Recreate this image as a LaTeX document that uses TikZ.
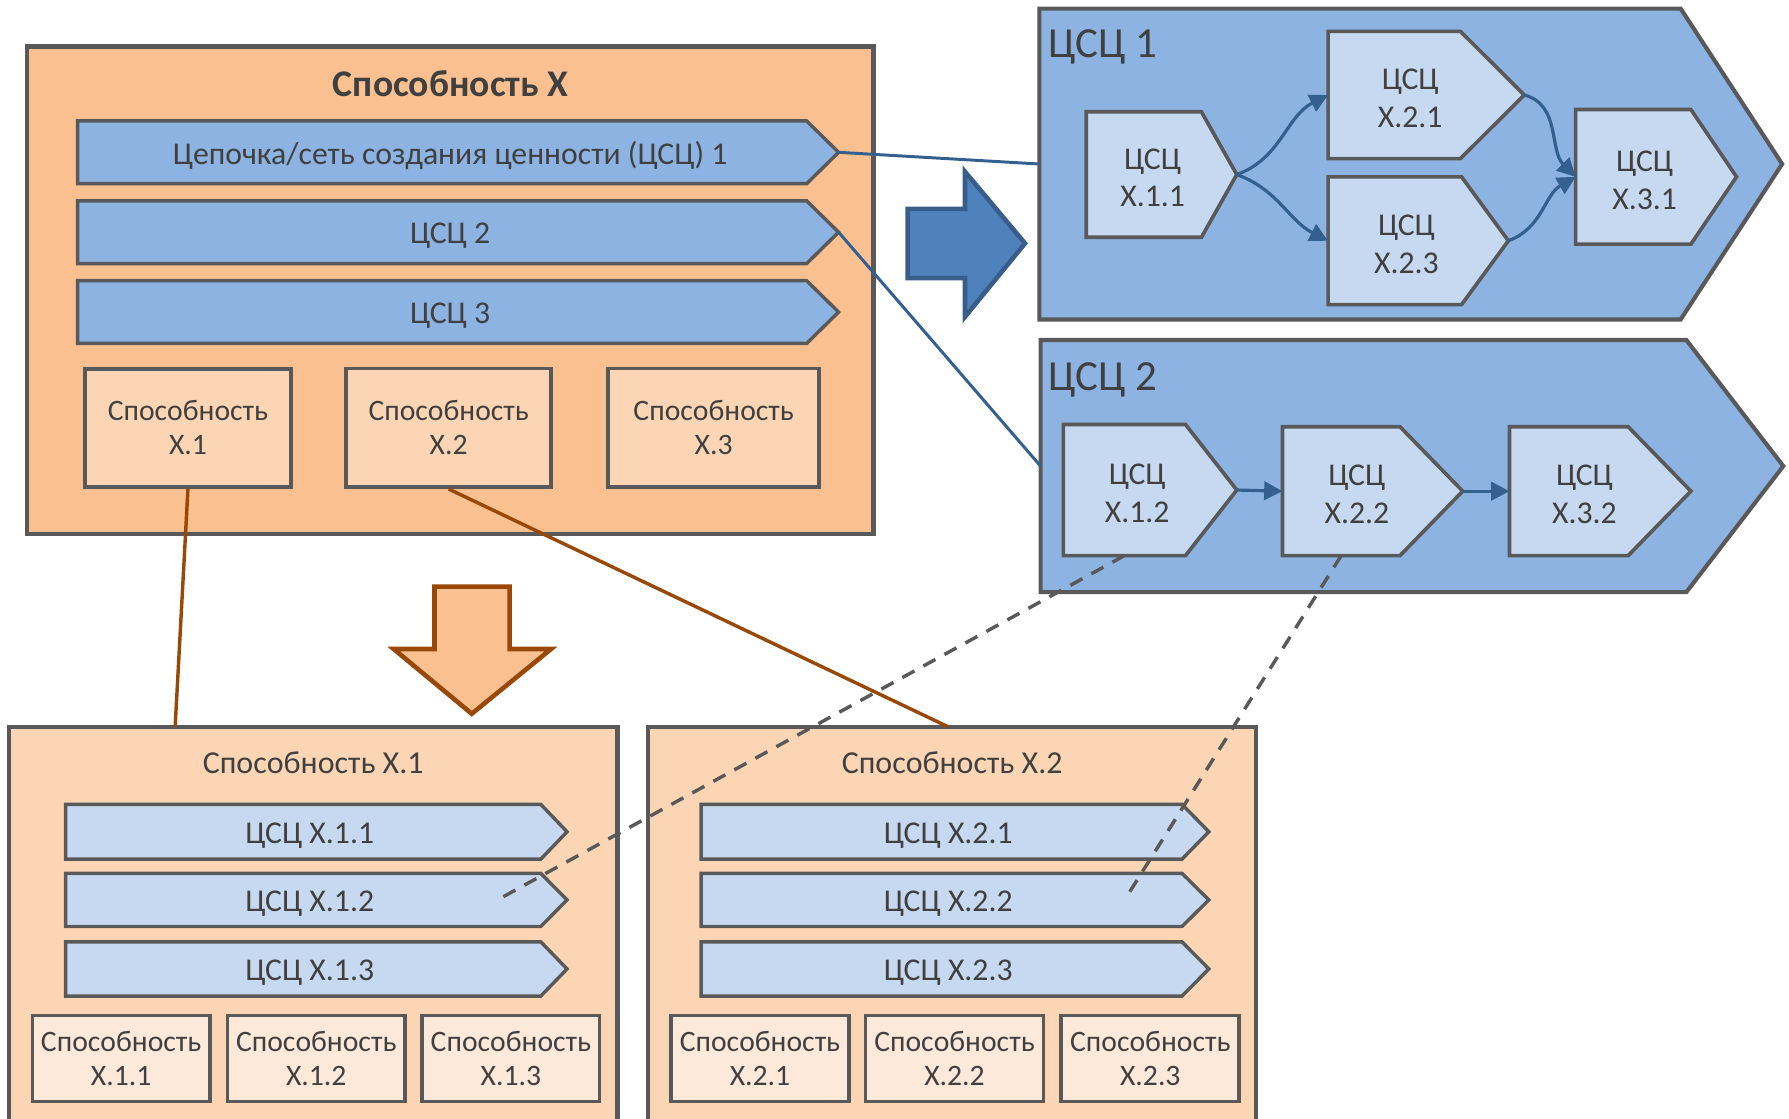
\documentclass[tikz,border=0pt]{standalone}
\usepackage{fontspec}
\setmainfont{Carlito}
\usetikzlibrary{arrows.meta}

\definecolor{framegray}{HTML}{595959}
\definecolor{txtgray}{HTML}{404040}
\definecolor{peach}{HTML}{FAC090}
\definecolor{peachlt}{HTML}{FCD5B5}
\definecolor{peachxl}{HTML}{FDE9D9}
\definecolor{chainblue}{HTML}{8DB3E2}
\definecolor{chainlt}{HTML}{C6D9F1}
\definecolor{linkblue}{HTML}{33608F}
\definecolor{arrowblue}{HTML}{4F81BD}
\definecolor{arrowedge}{HTML}{385D8A}
\definecolor{rust}{HTML}{984807}

% chevron: style, name, x left, y top, x body end, x tip, y bottom, text
\newcommand{\chev}[8]{%
  \draw[#1] (#3,#4) -- (#5,#4) -- (#6,{(#4+#7)/2}) -- (#5,#7) -- (#3,#7) -- cycle;
  \node[txt] (#2) at ({(#3+#5)/2+(#6-#5)/4},{(#4+#7)/2}) {#8};
  \coordinate (#2-tip) at (#6,{(#4+#7)/2});
  \coordinate (#2-w) at (#3,{(#4+#7)/2});
  \coordinate (#2-s) at ({(#3+#5)/2},#7);
}

\begin{document}
\begin{tikzpicture}[x=0.5pt,y=-0.5pt,line join=miter,
  sz/.style 2 args={minimum width=#1*0.5pt,minimum height=#2*0.5pt},
  frame/.style={draw=framegray,line width=2pt,inner sep=0pt},
  bar/.style={draw=framegray,line width=1.5pt,fill=chainblue},
  subbar/.style={draw=framegray,line width=1.5pt,fill=chainlt},
  panel/.style={draw=framegray,line width=1.8pt,fill=chainblue},
  innerchev/.style={draw=framegray,line width=1.6pt,fill=chainlt},
  capbox/.style={draw=framegray,line width=1.6pt,fill=peachlt,inner sep=0pt,
    align=center,text=txtgray,font=\fontsize{13}{15}\selectfont},
  capsmall/.style={capbox,fill=peachxl},
  txt/.style={inner sep=0pt,align=center,text=txtgray,yshift=-1.5pt,
    font=\fontsize{13.9}{16.5}\selectfont},
  captitle/.style={inner sep=0pt,text=txtgray,font=\fontsize{14}{16}\selectfont},
  chainlbl/.style={inner sep=0pt,text=txtgray,font=\fontsize{18.8}{22}\selectfont},
  link/.style={draw=linkblue,line width=1.3pt},
  flow/.style={draw=linkblue,line width=1.4pt,-{Triangle[length=8pt,width=8pt]}},
  rustline/.style={draw=rust,line width=1.5pt},
  dashline/.style={draw=framegray,line width=1.5pt,dash pattern=on 6pt off 4.5pt}]

  \clip (0,0) rectangle (1568,980);

  % capability X
  \node[frame,fill=peach,sz={742}{427}] (capX) at (394.7,254.4) {};
  \node[inner sep=0pt,text=txtgray,font=\bfseries\fontsize{16.5}{19}\selectfont,anchor=base]
    (capXt) at (395,85) {Способность X};
  \chev{bar}{cs1}{68}{106}{707}{735}{161}{Цепочка/сеть создания ценности (ЦСЦ) 1}
  \chev{bar}{cs2}{68}{176}{707}{735}{231}{ЦСЦ 2}
  \chev{bar}{cs3}{68}{246}{707}{735}{301}{ЦСЦ 3}
  \node[capbox,sz={180.5}{103.5}] (capX1) at (164.75,375) {Способность\\X.1};
  \node[capbox,sz={179.5}{104}] (capX2) at (393.25,375) {Способность\\X.2};
  \node[capbox,sz={185}{104}] (capX3) at (625.5,375) {Способность\\X.3};

  % capability X.1 and X.2
  \node[frame,fill=peachlt,sz={533}{363}] (boxX1) at (274.5,818.5) {};
  \node[captitle,anchor=base] (boxX1t) at (274.5,677.5) {Способность X.1};
  \node[frame,fill=peachlt,sz={533}{363}] (boxX2) at (834.5,818.5) {};
  \node[captitle,anchor=base] (boxX2t) at (834.5,677.5) {Способность X.2};
  \foreach \n/\ya/\yb in {1/705/753,2/765.5/812,3/825.5/873}{
    \chev{subbar}{cX1\n}{57.5}{\ya}{474}{497}{\yb}{ЦСЦ X.1.\n}
    \chev{subbar}{cX2\n}{614.5}{\ya}{1036}{1059.5}{\yb}{ЦСЦ X.2.\n}
  }
  \foreach \n/\cx in {1/106.2,2/277.2,3/447.8}
    \node[capsmall,sz={155.5}{75.4}] (capX1\n) at (\cx,927.8) {Способность\\X.1.\n};
  \foreach \n/\cx in {1/666.1,2/836.6,3/1008.2}
    \node[capsmall,sz={156}{75.4}] (capX2\n) at (\cx,927.8) {Способность\\X.2.\n};

  % chain 1
  \chev{panel}{p1}{911}{7.5}{1473}{1562}{280}{}
  \node[chainlbl,anchor=base west] (p1t) at (919,50.5) {ЦСЦ 1};
  \chev{innerchev}{v11}{952}{98}{1053}{1084}{208}{ЦСЦ\\X.1.1}
  \chev{innerchev}{v21}{1164}{27.5}{1280}{1336}{139}{ЦСЦ\\X.2.1}
  \chev{innerchev}{v23}{1164}{155}{1281}{1322}{267}{ЦСЦ\\X.2.3}
  \chev{innerchev}{v31}{1381}{96}{1482}{1522}{214}{ЦСЦ\\X.3.1}
  \draw[flow] (v11-tip) to[out=20,in=207] (v21-w);
  \draw[flow] (v11-tip) to[out=-20,in=153] (v23-w);
  \draw[flow] (v21-tip) to[out=-15,in=135] (v31-w);
  \draw[flow] (v23-tip) to[out=20,in=210] (v31-w);

  % chain 2
  \chev{panel}{p2}{912}{298}{1478}{1563}{519}{}
  \node[chainlbl,anchor=base west] (p2t) at (919,342) {ЦСЦ 2};
  \chev{innerchev}{v12}{932}{372}{1039}{1084}{487}{ЦСЦ\\X.1.2}
  \chev{innerchev}{v22}{1124}{374}{1227}{1282}{487}{ЦСЦ\\X.2.2}
  \chev{innerchev}{v32}{1323}{374}{1427}{1482}{487}{ЦСЦ\\X.3.2}
  \draw[flow] (v12-tip) -- (v22-w);
  \draw[flow] (v22-tip) -- (v32-w);

  % block arrows
  \draw[draw=arrowedge,line width=2pt,fill=arrowblue]
    (795.5,183) -- (845.8,183) -- (845.8,150.5) -- (898.4,213.3)
    -- (845.8,277.6) -- (845.8,243.8) -- (795.5,243.8) -- cycle;
  \draw[draw=rust,line width=2pt,fill=peach]
    (380.8,514.2) -- (446.7,514.2) -- (446.7,568.8) -- (483,568.8)
    -- (413.5,625.6) -- (345,568.8) -- (380.8,568.8) -- cycle;

  % connectors
  \draw[link] (cs1-tip) -- (p1-w);
  \draw[link] (cs2-tip) -- (p2-w);
  \coordinate (x1top) at (153.5,637);
  \draw[rustline] (capX1.south) -- (x1top);
  \draw[rustline] (capX2.south) -- (831,637);
  \coordinate (d1) at (435.5,789);
  \coordinate (d2) at (985.5,789);
  \draw[dashline] (v12-s) -- (d1);
  \draw[dashline] (v22-s) -- (d2);
\end{tikzpicture}
\end{document}
